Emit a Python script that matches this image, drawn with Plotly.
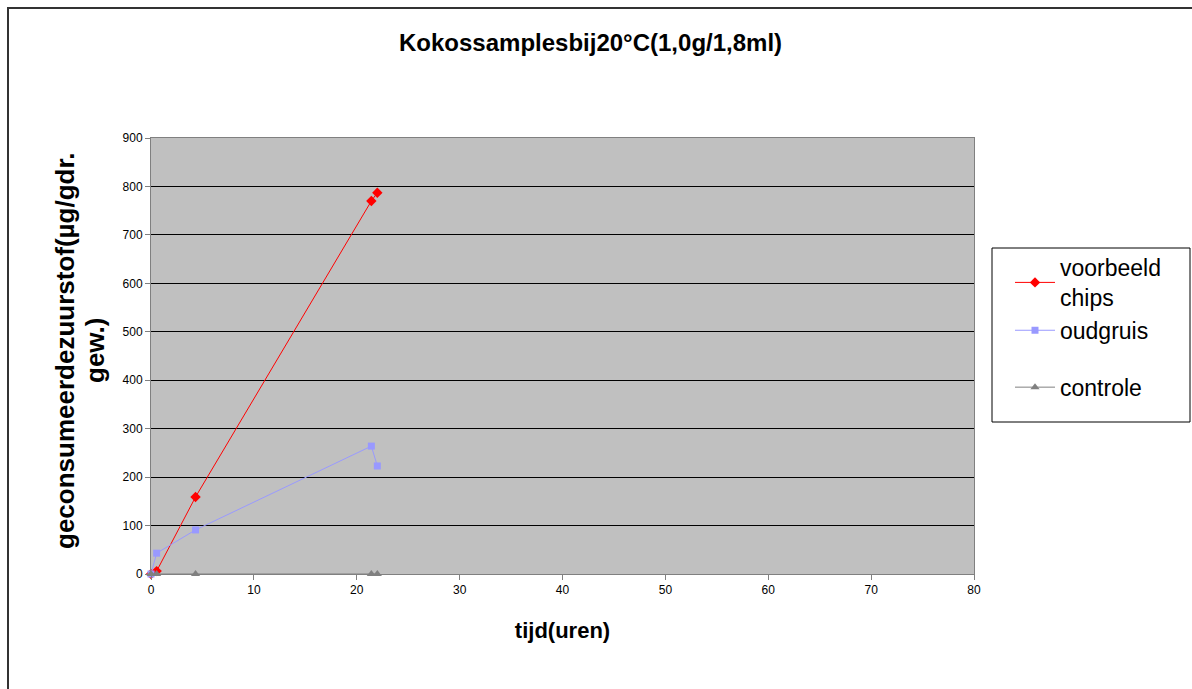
import plotly.graph_objects as go

# data
tijd = [0, 0.55, 4.33, 21.42, 22.0]
voorbeeld_chips = [0, 6, 159, 770, 787]
oudgruis = [0, 43, 91, 264, 223]
controle = [0, 0, 0, 0, 0]

FONT = "Liberation Sans, Arial, sans-serif"

fig = go.Figure()
fig.add_trace(go.Scatter(x=tijd, y=voorbeeld_chips, mode="lines+markers",
                         name="voorbeeld<br>chips", legendgroup="a",
                         line=dict(color="#FF0000", width=1),
                         marker=dict(symbol="diamond", size=8, color="#FF0000"),
                         cliponaxis=False))
fig.add_trace(go.Scatter(x=tijd, y=oudgruis, mode="lines+markers",
                         name="oudgruis", legendgroup="a",
                         line=dict(color="#9999FF", width=1),
                         marker=dict(symbol="square", size=7, color="#9999FF"),
                         cliponaxis=False))
fig.add_trace(go.Scatter(x=tijd, y=controle, mode="lines+markers",
                         name="controle", legendgroup="b",
                         line=dict(color="#808080", width=1),
                         marker=dict(symbol="triangle-up", size=8, color="#808080"),
                         cliponaxis=False))

L, R, T, B = 151, 218, 138, 115
W, H = 1192, 689
pw, ph = W - L - R, H - T - B

def px(xp):
    return (xp - L) / pw

def py(yp):
    return (H - B - yp) / ph

fig.update_layout(
    width=W, height=H,
    margin=dict(l=L, r=R, t=T, b=B),
    paper_bgcolor="white",
    plot_bgcolor="#C0C0C0",
    font=dict(family=FONT, color="black"),
    showlegend=True,
    legend=dict(x=px(1010), y=py(246), xanchor="left", yanchor="top",
                bgcolor="rgba(0,0,0,0)", borderwidth=0,
                font=dict(size=23, family=FONT), itemwidth=40,
                tracegroupgap=24),
    xaxis=dict(range=[0, 80], dtick=10, showgrid=False, zeroline=False,
               showline=True, linecolor="#808080", linewidth=1, mirror=True,
               ticks="outside", ticklen=5, tickcolor="#808080",
               tickfont=dict(size=12, family=FONT),
               title=dict(text="<b>tijd(uren)</b>", font=dict(size=22, family=FONT), standoff=26)),
    yaxis=dict(range=[0, 900], dtick=100, showgrid=True, gridcolor="black", gridwidth=1,
               zeroline=False, showline=True, linecolor="#808080", linewidth=1, mirror=True,
               ticks="outside", ticklen=5, tickcolor="#808080",
               tickfont=dict(size=12, family=FONT)),
    shapes=[
        dict(type="rect", xref="paper", yref="paper",
             x0=px(8), x1=px(1200), y0=py(700), y1=py(8),
             line=dict(color="#333333", width=2), fillcolor="rgba(0,0,0,0)", layer="below"),
        dict(type="rect", xref="paper", yref="paper",
             x0=px(992), x1=px(1190), y0=py(422), y1=py(248),
             line=dict(color="black", width=1), fillcolor="white", layer="below"),
    ],
    annotations=[
        dict(text="<b>Kokossamplesbij20°C(1,0g/1,8ml)</b>", xref="paper", yref="paper",
             x=px(590), y=py(42), xanchor="center", yanchor="middle", showarrow=False,
             font=dict(size=24, family=FONT)),
        dict(text="<b>geconsumeerdezuurstof(µg/gdr.</b>", xref="paper", yref="paper",
             x=px(65), y=py(351), xanchor="center", yanchor="middle", showarrow=False,
             textangle=-90, font=dict(size=26, family=FONT)),
        dict(text="<b>gew.)</b>", xref="paper", yref="paper",
             x=px(95), y=py(351), xanchor="center", yanchor="middle", showarrow=False,
             textangle=-90, font=dict(size=26, family=FONT)),
    ],
)

fig.write_html("out.html")
